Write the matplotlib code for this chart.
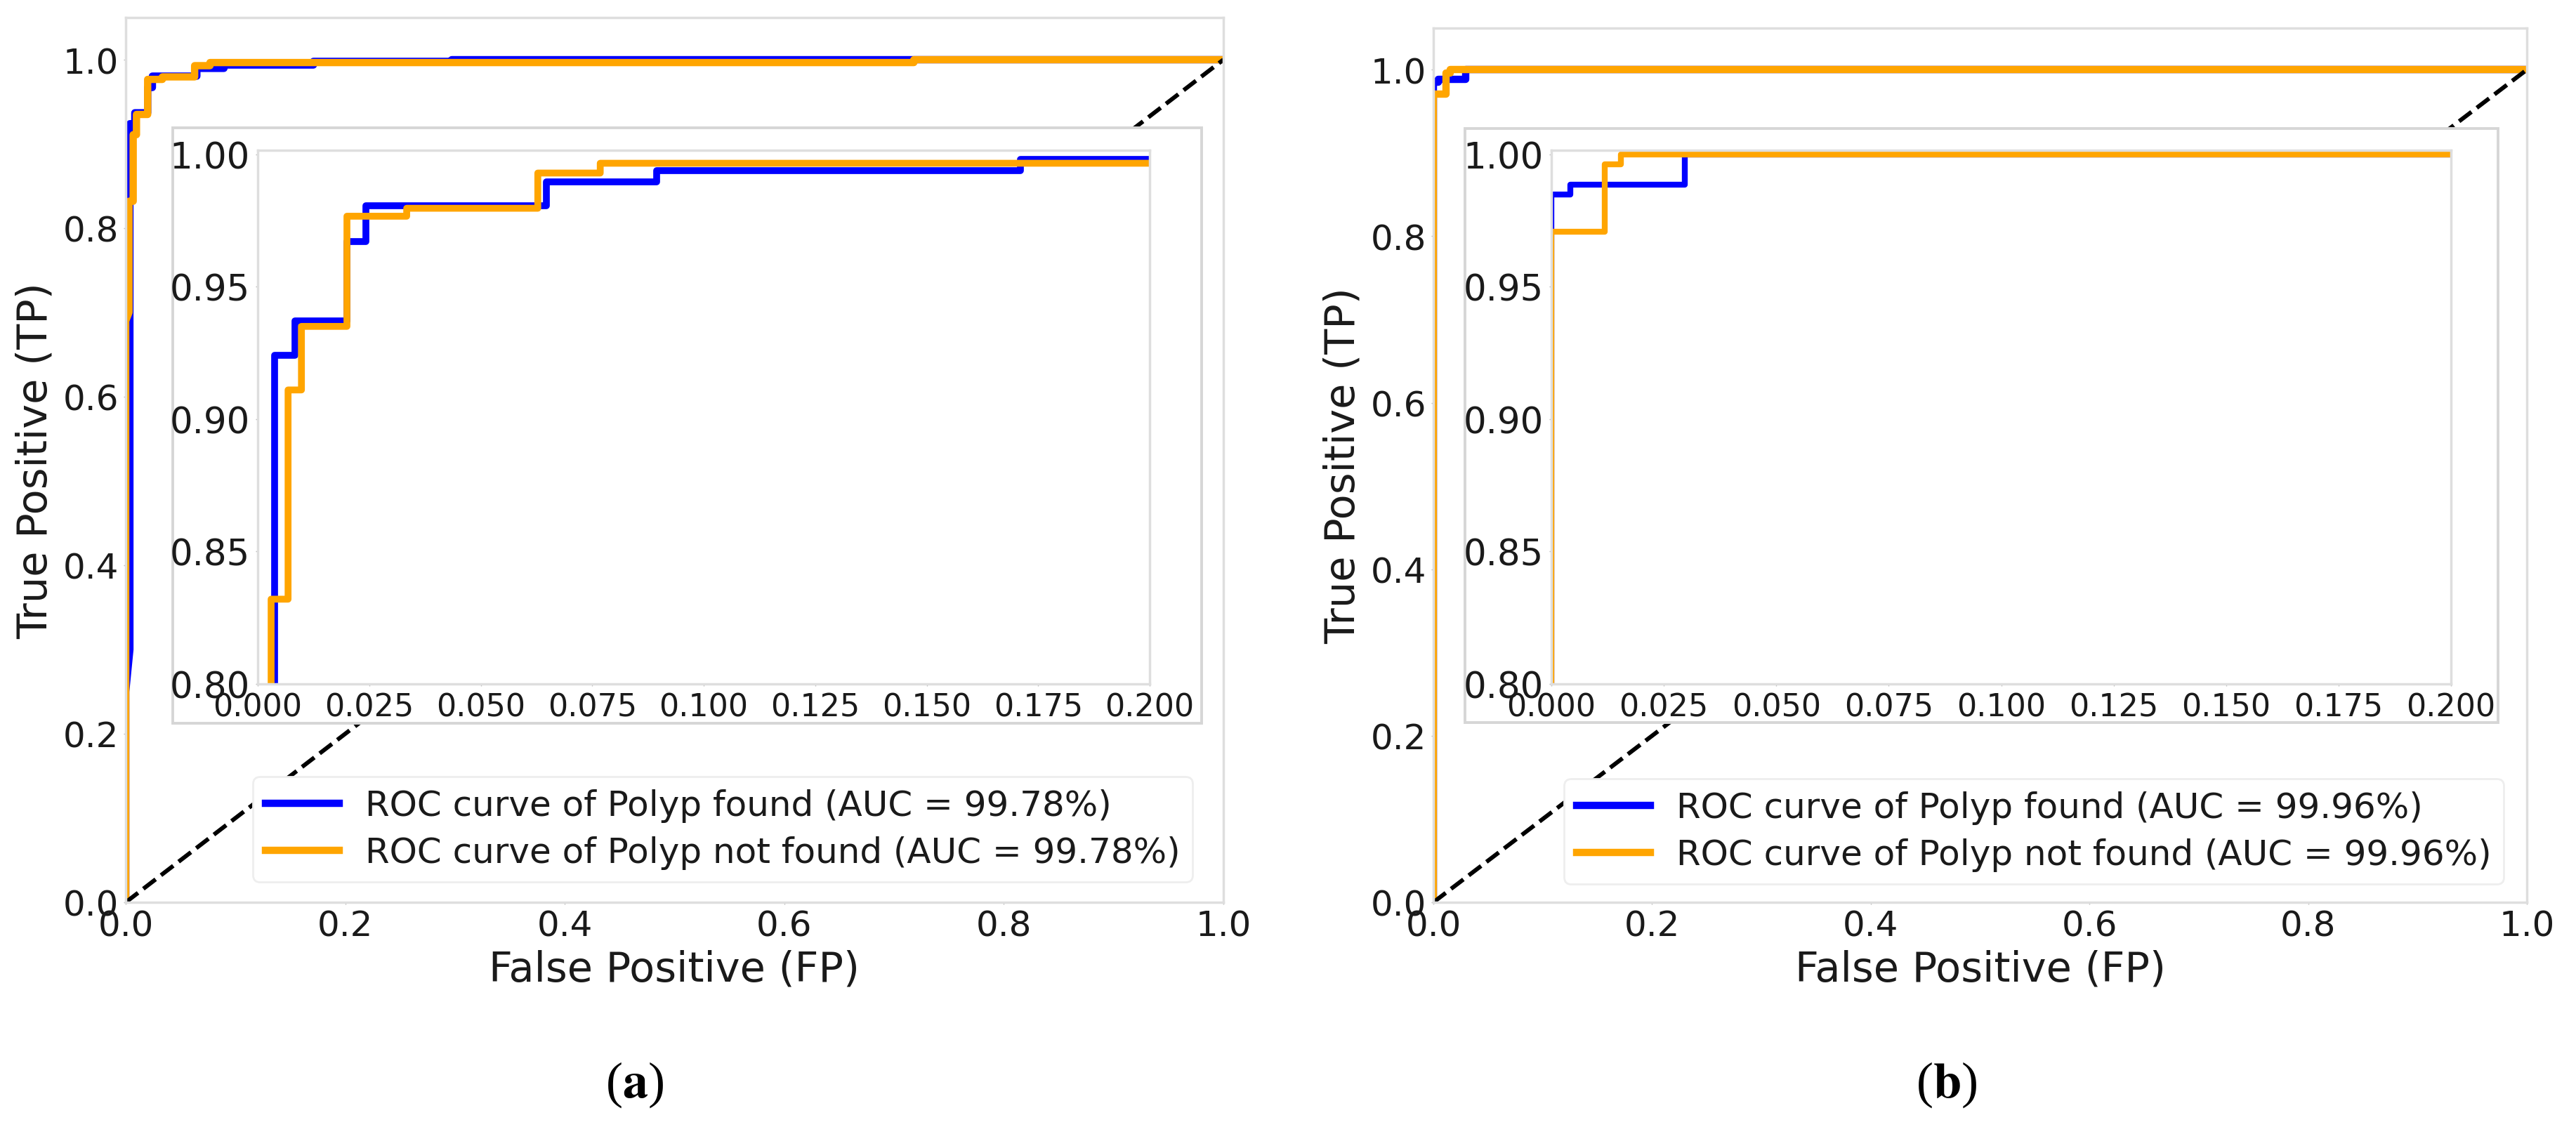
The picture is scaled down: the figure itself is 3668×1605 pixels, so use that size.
import matplotlib
matplotlib.use("Agg")
import matplotlib.pyplot as plt
from matplotlib.patches import Rectangle

plt.rcParams['font.family'] = ['DejaVu Sans']
plt.rcParams['mathtext.fontset'] = 'stix'

# ---------------- data ----------------
# panel (a)
fpr_found_a = [0, 0, 0.0038, 0.0038, 0.0083, 0.0083, 0.0200, 0.0200, 0.0243, 0.0243,
               0.0648, 0.0648, 0.0895, 0.0895, 0.171, 0.171, 0.297, 0.297, 1.0]
tpr_found_a = [0, 0.25, 0.30, 0.924, 0.924, 0.937, 0.937, 0.967, 0.967, 0.9805,
               0.9805, 0.9897, 0.9897, 0.9937, 0.9937, 0.998, 0.998, 1.0, 1.0]
fpr_notfound_a = [0, 0, 0.003, 0.003, 0.0068, 0.0068, 0.0098, 0.0098, 0.020, 0.020,
                  0.0334, 0.0334, 0.0628, 0.0628, 0.0768, 0.0768, 0.718, 0.718, 1.0]
tpr_notfound_a = [0, 0.69, 0.70, 0.832, 0.832, 0.911, 0.911, 0.935, 0.935, 0.9766,
                  0.9766, 0.9796, 0.9796, 0.9929, 0.9929, 0.9966, 0.9966, 1.0, 1.0]
# panel (b)
fpr_found_b = [0, 0, 0.0042, 0.0042, 0.0296, 0.0296, 1.0]
tpr_found_b = [0, 0.9847, 0.9847, 0.9884, 0.9884, 1.0, 1.0]
fpr_notfound_b = [0, 0, 0.0118, 0.0118, 0.0155, 0.0155, 1.0]
tpr_notfound_b = [0, 0.9708, 0.9708, 0.9963, 0.9963, 1.0, 1.0]

auc_a = 99.78
auc_b = 99.96
class_names = ["Polyp found", "Polyp not found"]

main_ticks = [0.0, 0.2, 0.4, 0.6, 0.8, 1.0]
inset_xticks = [0.000, 0.025, 0.050, 0.075, 0.100, 0.125, 0.150, 0.175, 0.200]
inset_xlabels = ["0.000", "0.025", "0.050", "0.075", "0.100", "0.125", "0.150", "0.175", "0.200"]
inset_yticks = [0.80, 0.85, 0.90, 0.95, 1.00]
inset_ylabels = ["0.80", "0.85", "0.90", "0.95", "1.00"]

# ---------------- figure ----------------
W, H = 3668, 1606
fig = plt.figure(figsize=(W / 100, H / 100), dpi=100)
fig.patch.set_facecolor('white')


def box(l, t, r, b):
    return [l / W, 1 - b / H, (r - l) / W, (b - t) / H]


TXT = '#1a1a1a'
SPINE = '#dedede'


def style(ax, xsize, ysize, pad):
    for s in ax.spines.values():
        s.set_color(SPINE)
        s.set_linewidth(2.5)
    ax.tick_params(axis='x', labelsize=xsize, length=2, width=1, color='#bbbbbb',
                   pad=pad, labelcolor=TXT)
    ax.tick_params(axis='y', labelsize=ysize, length=2, width=1, color='#bbbbbb',
                   pad=pad, labelcolor=TXT)
    ax.set_facecolor('white')


def main_panel(ax, fb, tb, fn, tn, auc):
    ax.plot(fb, tb, color='blue', lw=7.5,
            label=f"ROC curve of {class_names[0]} (AUC = {auc:.2f}%)")
    ax.plot(fn, tn, color='orange', lw=7.5,
            label=f"ROC curve of {class_names[1]} (AUC = {auc:.2f}%)")
    ax.plot([0, 1], [0, 1], 'k--', lw=4.3)
    ax.set_xlim(0, 1.0)
    ax.set_ylim(0, 1.05)
    ax.set_xticks(main_ticks)
    ax.set_yticks(main_ticks)
    style(ax, 36, 36, 5)
    ax.set_xlabel("False Positive (FP)", fontsize=42.5, color=TXT, labelpad=6)
    ax.set_ylabel("True Positive (TP)", fontsize=42.5, color=TXT, labelpad=8)


def inset_panel(ax, fb, tb, fn, tn, lw):
    ax.plot(fb, tb, color='blue', lw=lw)
    ax.plot(fn, tn, color='orange', lw=lw)
    ax.set_xlim(0, 0.2)
    ax.set_ylim(0.8, 1.0015)
    ax.set_xticks(inset_xticks)
    ax.set_xticklabels(inset_xlabels)
    ax.set_yticks(inset_yticks)
    ax.set_yticklabels(inset_ylabels)
    style(ax, 32, 37, 6)


# main axes
axA = fig.add_axes(box(179, 26, 1742, 1286))
axB = fig.add_axes(box(2041, 41, 3598, 1286))
main_panel(axA, fpr_found_a, tpr_found_a, fpr_notfound_a, tpr_notfound_a, auc_a)
main_panel(axB, fpr_found_b, tpr_found_b, fpr_notfound_b, tpr_notfound_b, auc_b)

leg_kw = dict(loc='lower left', fontsize=36, borderaxespad=0, borderpad=0.35,
              handlelength=2.1, handletextpad=0.75, labelspacing=0.38,
              frameon=True, fancybox=True, framealpha=1.0, facecolor='white',
              edgecolor='#eeeeee', labelcolor=TXT)
lgA = axA.legend(bbox_to_anchor=((360 - 179) / 1563, (1286 - 1257) / 1260), **leg_kw)
lgB = axB.legend(bbox_to_anchor=((2227 - 2041) / 1557, (1286 - 1260) / 1245), **leg_kw)
for lg in (lgA, lgB):
    lg.get_frame().set_linewidth(2)

# inset outer boxes
for (l, t, r, b) in [(246, 183, 1711, 1031), (2086, 184, 3557, 1030)]:
    rect = Rectangle((l / W, 1 - b / H), (r - l) / W, (b - t) / H,
                     transform=fig.transFigure, facecolor='white',
                     edgecolor='#d6d6d6', lw=2.8, zorder=0.5)
    fig.add_artist(rect)

# insets
axAi = fig.add_axes(box(367, 215, 1637, 975))
axBi = fig.add_axes(box(2209, 215, 3490, 975))
axAi.set_zorder(1)
axBi.set_zorder(1)
inset_panel(axAi, fpr_found_a, tpr_found_a, fpr_notfound_a, tpr_notfound_a, 7)
inset_panel(axBi, fpr_found_b, tpr_found_b, fpr_notfound_b, tpr_notfound_b, 6)

# captions
fig.text(904 / W, 1 - 1545 / H, r"($\mathbf{a}$)", fontsize=52,
         family='Liberation Serif', ha='center', va='center', color='black')
fig.text(2772 / W, 1 - 1545 / H, r"($\mathbf{b}$)", fontsize=52,
         family='Liberation Serif', ha='center', va='center', color='black')

fig.savefig("out.png", dpi=100, facecolor='white')
